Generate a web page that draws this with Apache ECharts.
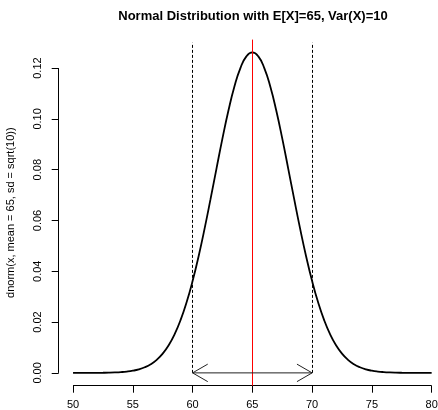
<!DOCTYPE html>
<html>
<head>
<meta charset="utf-8">
<script src="https://cdn.jsdelivr.net/npm/echarts@6/dist/echarts.min.js"></script>
<style>html,body{margin:0;padding:0;background:#fff}#c{width:438px;height:410px}</style>
</head>
<body>
<div id="c"></div>
<script>
const xValues = [50,50.5,51,51.5,52,52.5,53,53.5,54,54.5,55,55.5,56,56.5,57,57.5,58,58.5,59,59.5,60,60.5,61,61.5,62,62.5,63,63.5,64,64.5,65,65.5,66,66.5,67,67.5,68,68.5,69,69.5,70,70.5,71,71.5,72,72.5,73,73.5,74,74.5,75,75.5,76,76.5,77,77.5,78,78.5,79,79.5,80];
const densityValues = [0.000002,0.000003,0.000007,0.000014,0.00003,0.00005,0.00009,0.00017,0.00030,0.00051,0.00085,0.00138,0.00220,0.00340,0.00514,0.00758,0.01089,0.01526,0.02085,0.02780,0.03614,0.04584,0.05669,0.06838,0.08044,0.09230,0.10329,0.11273,0.12000,0.12459,0.12616,0.12459,0.12000,0.11273,0.10329,0.09230,0.08044,0.06838,0.05669,0.04584,0.03614,0.02780,0.02085,0.01526,0.01089,0.00758,0.00514,0.00340,0.00220,0.00138,0.00085,0.00051,0.00030,0.00017,0.00009,0.00005,0.00003,0.000014,0.000007,0.000003,0.000002];
const xTicks = [50,55,60,65,70,75,80];
const yTicks = [0,0.02,0.04,0.06,0.08,0.10,0.12];
const meanX = 65;
const boundsX = [60, 70];
const boundTop = 0.13;
const titleText = 'Normal Distribution with E[X]=65, Var(X)=10';
const yName = 'dnorm(x, mean = 65, sd = sqrt(10))';

const xMin = 48.8, xMax = 81.2, yMin = -0.005046, yMax = 0.131206;
const FONT = '"Liberation Sans", Arial, sans-serif';

const chart = echarts.init(document.getElementById('c'));
chart.setOption({
  animation: false,
  backgroundColor: '#fff',
  title: {
    text: titleText, left: 248, top: 5, textAlign: 'center',
    textStyle: {fontFamily: FONT, fontSize: 13, fontWeight: 'bold', color: '#000'}
  },
  grid: {left: 58.7, top: 39.6, width: 387.3, height: 346.1, containLabel: false, outerBoundsMode: 'none'},
  xAxis: {
    type: 'value', min: xMin, max: xMax,
    axisLine: {show: false, onZero: false}, splitLine: {show: false},
    axisTick: {show: true, customValues: xTicks, length: 7, lineStyle: {color: '#000', width: 1}},
    axisLabel: {customValues: xTicks, margin: 14, fontFamily: FONT, fontSize: 11, color: '#000'}
  },
  yAxis: {
    type: 'value', min: yMin, max: yMax,
    name: yName, nameLocation: 'middle', nameRotate: 90, nameGap: 42,
    nameTextStyle: {fontFamily: FONT, fontSize: 11, color: '#000'},
    axisLine: {show: false, onZero: false}, splitLine: {show: false},
    axisTick: {show: true, customValues: yTicks, length: 7, lineStyle: {color: '#000', width: 1}},
    axisLabel: {customValues: yTicks, rotate: 90, margin: 15, fontFamily: FONT, fontSize: 11, color: '#000',
      formatter: v => v.toFixed(2)}
  },
  series: [
    {
      type: 'line', data: xValues.map((x, i) => [x, densityValues[i]]),
      showSymbol: false, smooth: true,
      lineStyle: {color: '#000', width: 1.8}, z: 3,
      markLine: {
        silent: true, symbol: ['none', 'none'], label: {show: false},
        data: [
          [{coord: [boundsX[0], 0]}, {coord: [boundsX[0], boundTop]}],
          [{coord: [boundsX[1], 0]}, {coord: [boundsX[1], boundTop]}]
        ],
        lineStyle: {color: '#000', width: 1, type: [3, 2]}
      }
    },
    {
      type: 'line', data: [], clip: false,
      markLine: {
        silent: true, symbol: ['none', 'none'], label: {show: false}, animation: false,
        data: [
          [{coord: [xTicks[0], yMin]}, {coord: [xTicks[xTicks.length - 1], yMin]}],
          [{coord: [xMin, yTicks[0]]}, {coord: [xMin, yTicks[yTicks.length - 1]]}]
        ],
        lineStyle: {color: '#000', width: 1, type: 'solid'}
      }
    },
    {
      type: 'line', data: [], z: 4,
      markLine: {
        silent: true, symbol: ['none', 'none'], label: {show: false},
        data: [{xAxis: meanX}],
        lineStyle: {color: '#ff0000', width: 1, type: 'solid', opacity: 1},
        emphasis: {disabled: true}
      }
    },
    {
      type: 'custom', z: 5,
      data: [[boundsX[0], 0, boundsX[1], 0]],
      renderItem: function (params, api) {
        const p1 = api.coord([api.value(0), api.value(1)]);
        const p2 = api.coord([api.value(2), api.value(3)]);
        const L = 17.5, a = Math.PI / 6;
        const dx = L * Math.cos(a), dy = L * Math.sin(a);
        const st = {stroke: '#222', lineWidth: 1, fill: null};
        return {
          type: 'group',
          children: [
            {type: 'line', shape: {x1: p1[0], y1: p1[1], x2: p2[0], y2: p2[1]}, style: st},
            {type: 'polyline', shape: {points: [[p1[0] + dx, p1[1] - dy], [p1[0], p1[1]], [p1[0] + dx, p1[1] + dy]]}, style: st},
            {type: 'polyline', shape: {points: [[p2[0] - dx, p2[1] - dy], [p2[0], p2[1]], [p2[0] - dx, p2[1] + dy]]}, style: st}
          ]
        };
      }
    }
  ]
});
</script>
</body>
</html>
